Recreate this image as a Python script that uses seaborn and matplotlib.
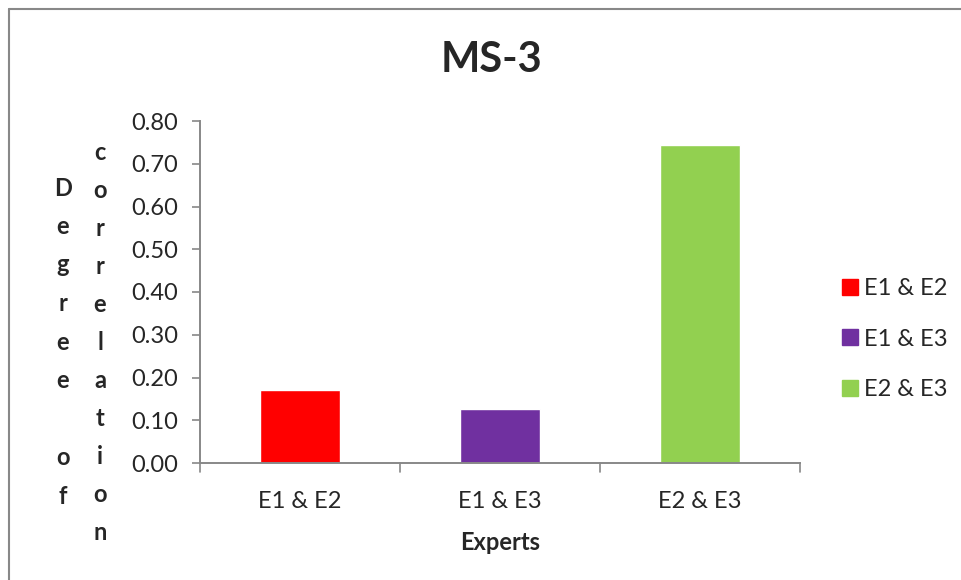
import matplotlib
matplotlib.use("Agg")
import matplotlib.pyplot as plt
import seaborn as sns
import pandas as pd
from matplotlib.lines import Line2D

# Data
pairs = ["E1 & E2", "E1 & E3", "E2 & E3"]
correlation = [0.17, 0.127, 0.743]
colors = ["#FF0000", "#7030A0", "#92D050"]
yticks = [0.0, 0.1, 0.2, 0.3, 0.4, 0.5, 0.6, 0.7, 0.8]
title = "MS-3"
xlabel = "Experts"
ylabel_col1 = "Degree of"
ylabel_col2 = "correlation"

sns.set_style("white")
plt.rcParams["font.family"] = ["Lato", "DejaVu Sans"]

FS = 17
W, H = 961, 580
fig = plt.figure(figsize=(W / 100, H / 100), dpi=100)
ax = fig.add_axes([200 / W, 1 - 463 / H, 600 / W, (463 - 121) / H])

df = pd.DataFrame({"pair": pairs, "value": correlation})
sns.barplot(data=df, x="pair", y="value", hue="pair", palette=colors,
            order=pairs, hue_order=pairs, dodge=False, width=0.4,
            saturation=1, legend=False, ax=ax)

ax.set_ylim(0, 0.8)
ax.set_xlim(-0.5, len(pairs) - 0.5)
ax.set_yticks(yticks)
ax.set_yticklabels([f"{v:.2f}" for v in yticks], fontsize=FS)
ax.set_xticks(range(len(pairs)))
ax.set_xticklabels(pairs, fontsize=FS)
ax.tick_params(axis="x", length=0, pad=20)
ax.tick_params(axis="y", length=6, width=1.2, color="#888888", pad=10, left=True)
# category boundary ticks on the x axis
for b in [-0.5, 0.5, 1.5, 2.5]:
    ax.plot([b, b], [0, -0.02], color="#888888", lw=1.2, clip_on=False,
            transform=ax.transData)
ax.set_xlabel(xlabel, fontsize=FS, fontweight="bold", labelpad=14)
ax.set_ylabel("")
for s in ["top", "right"]:
    ax.spines[s].set_visible(False)
for s in ["left", "bottom"]:
    ax.spines[s].set_color("#888888")
    ax.spines[s].set_linewidth(1.4)

fig.text(492 / W, 1 - 60 / H, title, fontsize=30, fontweight="bold",
         ha="center", va="center")

# y-axis title drawn as stacked letters in two columns
def stacked(text, x, y0, step):
    for i, ch in enumerate(text):
        if ch != " ":
            fig.text(x / W, 1 - (y0 + i * step) / H, ch, fontsize=FS,
                     fontweight="bold", ha="center", va="center")

stacked(ylabel_col1, 63, 188, 38.5)
stacked(ylabel_col2, 100, 152, 38.1)

# legend
handles = [Line2D([], [], marker="s", linestyle="none", markersize=12,
                  markerfacecolor=c, markeredgecolor=c) for c in colors]
fig.legend(handles, pairs, loc="center left",
           bbox_to_anchor=(820 / W, 1 - 339 / H), frameon=False,
           fontsize=FS, labelspacing=1.25, handletextpad=0.15,
           handlelength=0.9, borderpad=0.3)

# chart frame
fig.add_artist(Line2D([9 / W, 9 / W], [0, 1 - 8.5 / H], color="#888888",
                      lw=1.5, transform=fig.transFigure))
fig.add_artist(Line2D([9 / W, 1], [1 - 8.5 / H, 1 - 8.5 / H],
                      color="#888888", lw=1.5, transform=fig.transFigure))

fig.savefig("out.png", dpi=100, facecolor="white")
